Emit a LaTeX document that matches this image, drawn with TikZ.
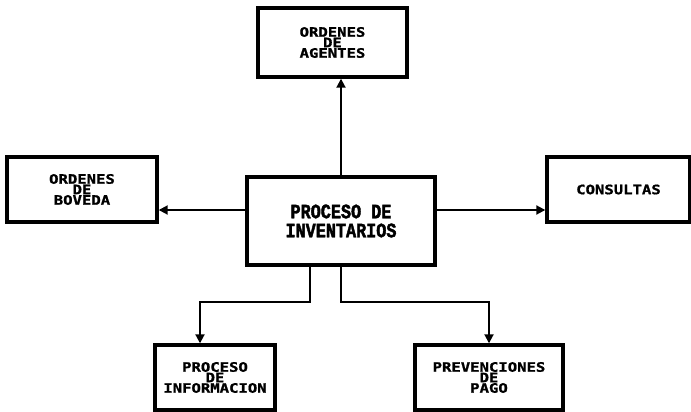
\documentclass[tikz,border=0pt]{standalone}
\usepackage{fontspec}
\usetikzlibrary{arrows.meta}
\newfontfamily\boxfont[FakeStretch=1.2,FakeBold=1.2]{DejaVu Sans Mono}
\newfontfamily\hubfont[FakeStretch=0.82,FakeBold=2]{Liberation Mono}
\tikzset{
  outbox/.style={draw, line width=3.4pt, rectangle, inner sep=0pt,
    align=center, font=\boxfont\bfseries\fontsize{13}{10.5}\selectfont},
  hubbox/.style={draw, line width=3.6pt, rectangle, inner sep=0pt,
    align=center, font=\hubfont\bfseries\fontsize{20.5}{19}\selectfont},
  link/.style={line width=1.9pt, -{Triangle[length=9pt,width=9pt]}}
}
\begin{document}
\begin{tikzpicture}[x=1pt,y=-1pt]
  \useasboundingbox (0,0) rectangle (691,412);
  \fill[white] (0,0) rectangle (691,412);

  % central process
  \node[hubbox, minimum width=188pt, minimum height=88pt] (hub) at (341,221)
    {PROCESO DE\\INVENTARIOS};

  % surrounding boxes
  \node[outbox, minimum width=149pt, minimum height=69pt] (agt) at (332.5,42.5)
    {ORDENES\\DE\\AGENTES};
  \node[outbox, minimum width=150pt, minimum height=65pt] (bov) at (82,189.5)
    {ORDENES\\DE\\BOVEDA};
  \node[outbox, minimum width=143pt, minimum height=65pt] (con) at (618.5,189.5)
    {CONSULTAS};
  \node[outbox, minimum width=120pt, minimum height=65pt] (inf) at (215,377.5)
    {PROCESO\\DE\\INFORMACION};
  \node[outbox, minimum width=148pt, minimum height=65pt] (pag) at (489,377.5)
    {PREVENCIONES\\DE\\PAGO};

  % connectors
  \draw[link] (hub.north) -- (hub.north |- agt.south);
  \draw[link] ([yshift=11pt]hub.west) -- ([yshift=11pt]hub.west -| bov.east);
  \draw[link] ([yshift=11pt]hub.east) -- ([yshift=11pt]hub.east -| con.west);
  \draw[link] ([xshift=-31pt]hub.south) -- ++(0,35) -| ([xshift=-15pt]inf.north);
  \draw[link] (hub.south) -- ++(0,35) -| (pag.north);
\end{tikzpicture}
\end{document}
